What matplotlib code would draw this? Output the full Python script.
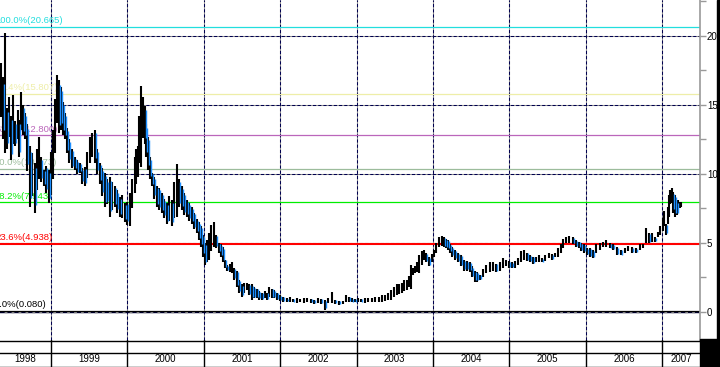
import matplotlib
matplotlib.use("Agg")
import matplotlib.pyplot as plt
from matplotlib.patches import Rectangle
from matplotlib.transforms import offset_copy

plt.rcParams["font.family"] = ["Liberation Sans", "DejaVu Sans"]

# price bars: (date as decimal year, high, low)
bars = [
    # 1998
    (1998.346, 18.0, 14.1), (1998.372, 17.0, 12.5), (1998.398, 20.2, 11.5), (1998.424, 14.8, 11.8),
    (1998.450, 15.6, 12.7), (1998.476, 14.2, 11.0), (1998.503, 15.7, 12.2), (1998.535, 13.8, 12.0),
    (1998.568, 14.6, 12.5), (1998.588, 13.9, 11.2), (1998.607, 15.9, 13.2), (1998.633, 15.0, 12.8),
    (1998.660, 14.4, 12.5), (1998.692, 13.6, 10.2), (1998.725, 12.0, 7.6), (1998.758, 11.5, 8.4),
    (1998.791, 10.8, 7.2), (1998.817, 11.8, 8.8), (1998.843, 12.7, 9.6), (1998.876, 11.2, 9.4),
    (1998.908, 10.3, 9.1), (1998.941, 10.6, 8.6), (1998.974, 10.3, 7.9), (1999.000, 11.6, 8.5),
    # 1999
    (1999.026, 13.2, 9.6), (1999.052, 15.4, 11.5), (1999.079, 17.2, 13.7), (1999.105, 16.8, 13.0),
    (1999.131, 16.3, 13.2), (1999.157, 15.2, 12.8), (1999.183, 14.4, 12.5), (1999.210, 13.3, 11.5),
    (1999.236, 12.5, 10.8), (1999.275, 11.8, 10.4), (1999.314, 11.2, 10.3), (1999.347, 11.0, 10.0),
    (1999.380, 10.8, 10.1), (1999.412, 10.4, 9.3), (1999.445, 10.5, 9.1), (1999.478, 11.6, 9.7),
    (1999.510, 12.7, 10.8), (1999.543, 13.0, 11.2), (1999.576, 13.2, 10.8), (1999.608, 11.8, 10.0),
    (1999.641, 10.8, 9.3), (1999.674, 10.4, 8.4), (1999.707, 10.1, 7.6), (1999.740, 9.6, 7.8),
    (1999.772, 9.8, 6.9), (1999.805, 9.4, 7.4), (1999.838, 9.1, 7.6), (1999.870, 8.8, 7.2),
    (1999.903, 8.3, 6.9), (1999.936, 8.5, 6.8), (1999.969, 7.9, 6.5), (2000.001, 8.0, 6.3),
    # 2000
    (2000.034, 8.6, 6.2), (2000.066, 9.6, 7.5), (2000.099, 11.2, 8.6), (2000.119, 11.8, 9.3),
    (2000.139, 12.0, 9.8), (2000.158, 14.2, 10.8), (2000.178, 16.4, 10.5), (2000.204, 15.6, 12.6),
    (2000.230, 14.9, 12.2), (2000.250, 13.6, 11.2), (2000.270, 12.7, 10.3), (2000.296, 11.2, 9.6),
    (2000.322, 10.1, 9.1), (2000.355, 9.8, 8.2), (2000.387, 9.1, 7.6), (2000.420, 9.0, 7.4),
    (2000.453, 8.6, 7.2), (2000.486, 8.2, 6.8), (2000.518, 7.9, 6.4), (2000.551, 8.4, 6.6),
    (2000.584, 8.1, 6.2), (2000.616, 9.4, 6.8), (2000.649, 10.7, 6.9), (2000.682, 9.6, 7.6),
    (2000.715, 9.1, 7.4), (2000.747, 8.6, 7.0), (2000.780, 8.1, 6.9), (2000.813, 7.9, 6.6),
    (2000.846, 7.6, 6.4), (2000.878, 7.2, 6.0), (2000.911, 6.7, 5.7), (2000.937, 6.5, 5.2),
    (2000.963, 6.2, 4.7), (2000.990, 5.6, 4.0),
    # 2001
    (2001.016, 5.0, 3.4), (2001.042, 5.2, 3.6), (2001.068, 5.7, 3.8), (2001.101, 6.3, 4.4),
    (2001.134, 6.5, 4.7), (2001.166, 5.6, 4.6), (2001.199, 5.0, 4.3), (2001.225, 4.9, 4.0),
    (2001.251, 4.7, 3.6), (2001.278, 3.8, 3.2), (2001.304, 3.4, 3.0), (2001.337, 3.5, 2.9),
    (2001.369, 3.6, 2.8), (2001.402, 3.2, 2.3), (2001.435, 3.0, 1.8), (2001.467, 2.3, 1.4),
    (2001.500, 2.0, 1.1), (2001.533, 2.1, 1.4), (2001.565, 2.1, 1.6), (2001.598, 2.0, 1.2),
    (2001.631, 2.0, 0.9), (2001.664, 1.8, 1.0), (2001.696, 1.7, 1.0), (2001.729, 1.5, 0.9),
    (2001.762, 1.4, 0.9), (2001.795, 1.5, 1.0), (2001.827, 1.4, 0.9), (2001.860, 1.8, 1.1),
    (2001.893, 1.7, 1.0), (2001.925, 1.6, 1.0), (2001.958, 1.4, 0.9), (2001.998, 1.2, 0.8),
    # 2002
    (2002.037, 1.1, 0.7), (2002.083, 1.0, 0.75), (2002.128, 1.1, 0.7), (2002.174, 0.95, 0.7),
    (2002.220, 1.0, 0.65), (2002.266, 0.95, 0.7), (2002.311, 1.0, 0.65), (2002.357, 1.0, 0.7),
    (2002.403, 0.95, 0.65), (2002.449, 0.9, 0.6), (2002.495, 1.0, 0.65), (2002.540, 0.95, 0.6),
    (2002.586, 0.9, 0.15), (2002.632, 1.0, 0.65), (2002.678, 1.45, 0.65), (2002.724, 0.9, 0.6),
    (2002.770, 0.8, 0.5), (2002.816, 0.8, 0.55), (2002.861, 1.2, 0.7), (2002.900, 1.1, 0.75),
    (2002.940, 1.0, 0.7), (2002.979, 0.95, 0.7),
    # 2003
    (2003.018, 1.0, 0.7), (2003.064, 0.95, 0.7), (2003.110, 1.0, 0.65), (2003.156, 1.0, 0.7),
    (2003.202, 1.0, 0.7), (2003.247, 1.05, 0.7), (2003.293, 1.1, 0.7), (2003.333, 1.2, 0.75),
    (2003.372, 1.2, 0.8), (2003.411, 1.4, 0.85), (2003.450, 1.6, 0.9), (2003.490, 1.8, 1.1),
    (2003.529, 2.0, 1.2), (2003.561, 2.0, 1.3), (2003.594, 2.1, 1.4), (2003.627, 2.3, 1.5),
    (2003.660, 2.3, 1.6), (2003.686, 2.6, 1.8), (2003.712, 3.4, 1.7), (2003.738, 3.2, 2.7),
    (2003.764, 3.3, 2.8), (2003.791, 3.6, 2.9), (2003.817, 4.1, 2.8), (2003.850, 4.4, 3.4),
    (2003.882, 4.5, 3.8), (2003.915, 4.3, 3.6), (2003.948, 4.0, 3.3), (2003.981, 4.2, 3.6),
    # 2004
    (2004.013, 4.5, 4.0), (2004.046, 5.0, 4.3), (2004.079, 5.4, 4.7), (2004.112, 5.5, 4.8),
    (2004.144, 5.4, 4.7), (2004.170, 5.3, 4.6), (2004.196, 5.2, 4.5), (2004.223, 4.9, 4.3),
    (2004.249, 4.7, 4.0), (2004.288, 4.5, 3.8), (2004.327, 4.3, 3.6), (2004.367, 4.1, 3.3),
    (2004.406, 3.8, 3.0), (2004.445, 3.7, 3.0), (2004.484, 3.6, 2.9), (2004.517, 3.3, 2.5),
    (2004.550, 3.0, 2.2), (2004.582, 2.9, 2.2), (2004.615, 2.7, 2.3), (2004.654, 3.1, 2.5),
    (2004.694, 3.4, 2.8), (2004.740, 3.6, 2.9), (2004.785, 3.6, 3.0), (2004.831, 3.5, 2.9),
    (2004.877, 3.6, 3.0), (2004.916, 3.9, 3.2), (2004.955, 3.8, 3.3), (2004.995, 3.7, 3.2),
    # 2005
    (2005.034, 3.6, 3.2), (2005.073, 3.7, 3.2), (2005.113, 3.9, 3.4), (2005.152, 4.4, 3.6),
    (2005.191, 4.5, 3.8), (2005.230, 4.3, 3.7), (2005.270, 4.1, 3.6), (2005.309, 4.0, 3.5),
    (2005.348, 4.0, 3.6), (2005.387, 4.1, 3.6), (2005.427, 3.9, 3.6), (2005.472, 4.1, 3.7),
    (2005.518, 4.3, 3.9), (2005.557, 4.2, 3.8), (2005.597, 4.3, 4.0), (2005.636, 4.6, 4.0),
    (2005.675, 4.9, 4.3), (2005.708, 5.3, 4.6), (2005.741, 5.4, 5.0), (2005.786, 5.5, 5.0),
    (2005.832, 5.4, 4.9), (2005.871, 5.2, 4.7), (2005.911, 5.1, 4.6), (2005.943, 5.0, 4.4),
    (2005.976, 4.9, 4.3),
    # 2006
    (2006.016, 4.6, 4.1), (2006.055, 4.6, 4.0), (2006.094, 4.5, 3.9), (2006.134, 4.9, 4.3),
    (2006.180, 5.0, 4.5), (2006.225, 5.1, 4.7), (2006.271, 5.2, 4.7), (2006.317, 5.0, 4.6),
    (2006.362, 4.9, 4.5), (2006.408, 4.7, 4.1), (2006.460, 4.5, 4.1), (2006.513, 4.6, 4.3),
    (2006.559, 4.8, 4.4), (2006.605, 4.7, 4.3), (2006.657, 4.6, 4.3), (2006.709, 4.9, 4.5),
    (2006.748, 4.9, 4.6), (2006.788, 6.1, 5.0), (2006.827, 5.7, 5.0), (2006.866, 5.7, 5.1),
    (2006.906, 5.4, 5.1), (2006.945, 5.8, 5.4), (2006.977, 6.2, 5.6),
    # 2007
    (2007.010, 6.8, 5.9), (2007.030, 7.3, 6.2), (2007.050, 6.4, 5.6), (2007.070, 7.6, 6.4),
    (2007.089, 8.5, 6.9), (2007.108, 8.8, 7.8), (2007.128, 9.0, 7.9), (2007.148, 8.7, 7.2),
    (2007.168, 8.5, 6.9), (2007.188, 8.0, 7.0), (2007.207, 8.1, 7.4), (2007.227, 8.0, 7.5),
    (2007.246, 8.0, 7.6),
]
bar_dates = [b[0] for b in bars]
bar_high = [b[1] for b in bars]
bar_low = [b[2] for b in bars]

# fibonacci retracement levels
fib_pcts = ["100.0%", "76.4%", "61.8%", "50.0%", "38.2%", "23.6%", "0.0%"]
fib_values = [20.665, 15.807, 12.800, 10.373, 7.943, 4.938, 0.080]
fib_colors = ["#22dede", "#eeeea8", "#bb66bb", "#9cbc9c", "#00ee00", "#ff0000", "#000000"]

years = [1998, 1999, 2000, 2001, 2002, 2003, 2004, 2005, 2006, 2007]
y_ticks = [0, 5, 10, 15, 20]
y_minor = [2.5, 7.5, 12.5, 17.5, 22.5]

x_lo, x_hi = 1998.333, 2007.495
y_lo, y_hi = -2.03, 22.6

fig = plt.figure(figsize=(7.2, 3.67), dpi=100)
fig.patch.set_facecolor("white")
ax = fig.add_axes([0, 27 / 367, 700 / 720, 340 / 367])
strip = fig.add_axes([0, 0, 700 / 720, 27 / 367])

# dashed grid: gray base with navy dashes on top
grid_x = years[1:]
for gx in grid_x:
    ax.axvline(gx, color="#909090", lw=0.75, zorder=1)
    ax.axvline(gx, color="#000050", lw=0.75, ls=(0, (3, 2)), zorder=1.1)
for gy in y_ticks:
    ax.axhline(gy, color="#909090", lw=0.75, zorder=1)
    ax.axhline(gy, color="#000050", lw=0.75, ls=(0, (3, 2)), zorder=1.1)
ax.axhline(0, color="#000030", lw=1.0, zorder=1.2)
ax.axhline(0, color="#909090", lw=1.0, ls=(2, (2, 3)), zorder=1.3)

# fib lines and labels (first character runs off the left edge, as in the original)
for pct, val, col in zip(fib_pcts, fib_values, fib_colors):
    lw = 1.5 if pct == "23.6%" else 0.9
    ax.axhline(val, color=col, lw=lw, zorder=2)
    tr = offset_copy(ax.get_yaxis_transform(), fig=fig, x=-5, y=1.5, units="dots")
    ax.text(0, val, f"{pct}({val:.3f})", color=col, fontsize=6.8, transform=tr,
            ha="left", va="bottom", clip_on=True, zorder=2.5)

# price bars, down bars get a blue stroke beside the black one
prev_mid = None
for d, h, l in zip(bar_dates, bar_high, bar_low):
    ax.vlines(d, l, h, color="black", lw=1.5, zorder=3)
    mid = (h + l) / 2
    if prev_mid is not None and mid < prev_mid:
        ax.vlines(d + 0.013, l + (h - l) * 0.15, h - (h - l) * 0.1, color="#1e8fff", lw=1.0, zorder=3.2)
    prev_mid = mid

# right axis
ax.yaxis.tick_right()
ax.set_yticks(y_ticks)
ax.set_yticklabels([str(v) for v in y_ticks])
ax.set_yticks(y_minor, minor=True)
ax.tick_params(axis="y", which="both", direction="out", length=4, width=1,
               color="#999999", labelsize=7, pad=1)
ax.set_xticks([])
for side in ["top", "left", "bottom"]:
    ax.spines[side].set_visible(False)
ax.spines["right"].set_color("#999999")
ax.spines["right"].set_linewidth(1.2)
ax.set_xlim(x_lo, x_hi)
ax.set_ylim(y_lo, y_hi)

# date strip below the chart
strip.set_xlim(x_lo, x_hi)
strip.set_ylim(0, 27)
strip.axis("off")
strip.axhline(26.5, color="black", lw=1)
strip.axhline(14.5, color="black", lw=1)
strip.axhline(0.5, color="black", lw=1)
for gx in grid_x:
    strip.axvline(gx, color="black", lw=1)
bounds = [x_lo] + grid_x + [x_hi]
for yr, a, b in zip(years, bounds[:-1], bounds[1:]):
    strip.text((a + b) / 2, 7.5, str(yr), fontsize=7, ha="center", va="center")

# black border on the right
fig.patches.append(Rectangle((717 / 720, 0), 3 / 720, 1, transform=fig.transFigure,
                             color="black", zorder=10))
fig.patches.append(Rectangle((700 / 720, 0), 20 / 720, 28 / 367, transform=fig.transFigure,
                             color="black", zorder=10))

fig.savefig("out.png", dpi=100)
